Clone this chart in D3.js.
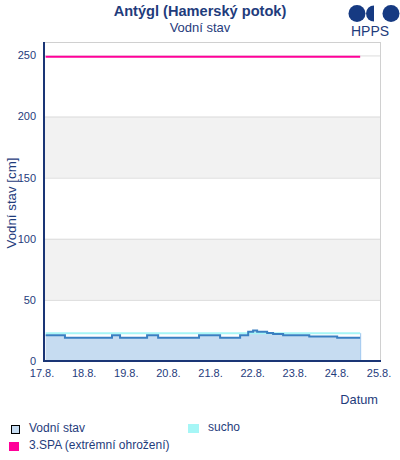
<!DOCTYPE html>
<meta charset="utf-8">
<style>
    body { margin: 0; background: #fff; }
    svg { display: block; font-family: "Liberation Sans", Arial, sans-serif; }
    .txt { fill: #1f3c7c; }
</style>
<svg width="400" height="460"></svg>
<script src="https://d3js.org/d3.v7.min.js"></script>
<script>

    // hodiny od 17.8. 00:00 a vodni stav [cm] (schodovity prubeh)
    var hours  = [1.5, 12.5, 39.3, 43.9, 54.2, 59.3, 65.6, 88.9, 100.9, 112.3, 116.9, 119.7, 122, 127.7, 131.1, 136.8, 151.7, 167.6, 180.7];
    var levels = [21,  19,   21,   19,   19,   21,   19,   21,   19,    21,    24,    25,    24,  23,    22,    21,    20,    19,    19];

    var sucho = 22.8;       // hranice sucha
    var spa3 = 249;         // 3.SPA
    var dayLabels = ["17.8.", "18.8.", "19.8.", "20.8.", "21.8.", "22.8.", "23.8.", "24.8.", "25.8."];
    var yTicks = [0, 50, 100, 150, 200, 250];
    var bands = [[50, 100], [150, 200]];

    var svg = d3.select("svg");
    var start = new Date(2024, 7, 17);

    var x = d3.scaleTime()
        .domain([start, d3.timeDay.offset(start, 8)])
        .range([43, 380]);
    var y = d3.scaleLinear().domain([0, 261]).range([361, 42]);

    var data = hours.map(function (h, i) {
        return { t: new Date(start.getTime() + h * 3600000), v: levels[i] };
    });
    var t0 = data[0].t, t1 = data[data.length - 1].t;

    // pozadi - pasy a mrizka
    svg.selectAll(".band").data(bands).enter().append("rect")
        .attr("x", x.range()[0]).attr("width", x.range()[1] - x.range()[0])
        .attr("y", function (d) { return y(d[1]); })
        .attr("height", function (d) { return y(d[0]) - y(d[1]); })
        .attr("fill", "#f2f2f2");

    svg.selectAll(".grid").data(yTicks.slice(1)).enter().append("line")
        .attr("x1", x.range()[0]).attr("x2", x.range()[1])
        .attr("y1", function (d) { return y(d) + 0.5; })
        .attr("y2", function (d) { return y(d) + 0.5; })
        .attr("stroke", "#dcdcdc");

    // ramecek
    svg.append("line").attr("x1", 43).attr("x2", 380.5).attr("y1", 42.5).attr("y2", 42.5).attr("stroke", "#d0d0d0");
    svg.append("line").attr("x1", 380.5).attr("x2", 380.5).attr("y1", 42).attr("y2", 361).attr("stroke", "#d0d0d0");

    // plocha vodniho stavu
    var area = d3.area().curve(d3.curveStepAfter)
        .x(function (d) { return x(d.t); })
        .y0(y(0))
        .y1(function (d) { return y(d.v); });
    svg.append("path").datum(data).attr("d", area).attr("fill", "#c6dcf1");
    svg.append("line")
        .attr("x1", x(t1) + 0.5).attr("x2", x(t1) + 0.5)
        .attr("y1", y(sucho)).attr("y2", y(0))
        .attr("stroke", "#9cc5ee");

    // sucho
    svg.append("line")
        .attr("x1", x(t0)).attr("x2", x(t1))
        .attr("y1", y(sucho)).attr("y2", y(sucho))
        .attr("stroke", "#a6f6f6").attr("stroke-width", 2);

    // cara vodniho stavu
    var line = d3.line().curve(d3.curveStepAfter)
        .x(function (d) { return x(d.t); })
        .y(function (d) { return y(d.v); });
    svg.append("path").datum(data).attr("d", line)
        .attr("fill", "none").attr("stroke", "#3a80c2").attr("stroke-width", 2);

    // 3.SPA
    svg.append("line")
        .attr("x1", x(t0)).attr("x2", x(t1))
        .attr("y1", y(spa3)).attr("y2", y(spa3))
        .attr("stroke", "#ff0099").attr("stroke-width", 2);

    // osy
    svg.append("line").attr("x1", 44).attr("x2", 44).attr("y1", 42).attr("y2", 362)
        .attr("stroke", "#1a3575").attr("stroke-width", 2);
    svg.append("line").attr("x1", 43).attr("x2", 381).attr("y1", 361).attr("y2", 361)
        .attr("stroke", "#1a3575").attr("stroke-width", 2);

    svg.selectAll(".ytick").data(yTicks).enter().append("text")
        .attr("class", "txt")
        .attr("x", 36).attr("y", function (d) { return y(d); })
        .attr("dy", "0.35em").attr("text-anchor", "end")
        .attr("font-size", 11)
        .text(function (d) { return d; });

    svg.selectAll(".xtick").data(dayLabels).enter().append("text")
        .attr("class", "txt")
        .attr("x", function (d, i) { return x(d3.timeDay.offset(start, i)) - 1; })
        .attr("y", 377).attr("text-anchor", "middle")
        .attr("font-size", 11)
        .text(function (d) { return d; });

    svg.append("text").attr("class", "txt")
        .attr("transform", "translate(16,203) rotate(-90)")
        .attr("text-anchor", "middle").attr("font-size", 13.3)
        .text("Vodní stav [cm]");

    svg.append("text").attr("class", "txt")
        .attr("x", 378).attr("y", 404).attr("text-anchor", "end").attr("font-size", 12.8)
        .text("Datum");

    // titulky
    svg.append("text").attr("class", "txt")
        .attr("x", 200).attr("y", 16).attr("text-anchor", "middle")
        .attr("font-size", 14.6).attr("font-weight", "bold")
        .text("Antýgl (Hamerský potok)");
    svg.append("text").attr("class", "txt")
        .attr("x", 200).attr("y", 32).attr("text-anchor", "middle")
        .attr("font-size", 13)
        .text("Vodní stav");

    // logo HPPS
    var logo = svg.append("g").attr("fill", "#163a82");
    logo.append("circle").attr("cx", 357).attr("cy", 13.5).attr("r", 8.5);
    logo.append("path").attr("d", d3.arc()({ innerRadius: 0, outerRadius: 8, startAngle: Math.PI, endAngle: 2 * Math.PI }))
        .attr("transform", "translate(374,13.5)");
    logo.append("circle").attr("cx", 391).attr("cy", 13.5).attr("r", 8.5);
    svg.append("text").attr("class", "txt")
        .attr("x", 370).attr("y", 36).attr("text-anchor", "middle").attr("font-size", 14)
        .text("HPPS");

    // legenda
    var legend = [
        { x: 11, y: 425, w: 8, h: 8, fill: "#c6dcf1", stroke: "#000", label: "Vodní stav" },
        { x: 188, y: 424, w: 11, h: 9, fill: "#a6f6f6", stroke: "none", label: "sucho" },
        { x: 9, y: 442, w: 10, h: 9, fill: "#ff0099", stroke: "none", label: "3.SPA (extrémní ohrožení)" }
    ];
    var lg = svg.selectAll(".leg").data(legend).enter().append("g");
    lg.append("rect")
        .attr("x", function (d) { return d.x + (d.stroke === "none" ? 0 : 0.5); })
        .attr("y", function (d) { return d.y + (d.stroke === "none" ? 0 : 0.5); })
        .attr("width", function (d) { return d.w; })
        .attr("height", function (d) { return d.h; })
        .attr("fill", function (d) { return d.fill; })
        .attr("stroke", function (d) { return d.stroke; });
    lg.append("text").attr("class", "txt")
        .attr("x", function (d) { return d.x + (d.x > 100 ? 20 : 18) + (d.x === 9 ? 2 : 0); })
        .attr("y", function (d) { return d.y + 7; })
        .attr("font-size", 12)
        .text(function (d) { return d.label; });

</script>
